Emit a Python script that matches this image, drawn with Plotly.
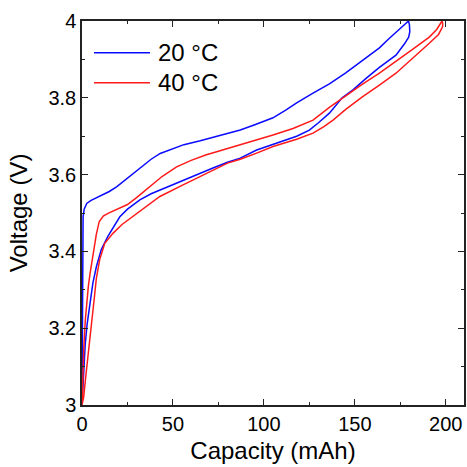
import plotly.graph_objects as go

# ---- data ----
# 20 °C : charge branch (upper) and discharge branch (lower)
cap_20_charge = [0, 0.1, 0.2, 0.3, 0.6, 1.2, 2.6, 5, 10, 15, 19, 25, 32, 38, 43, 50, 56, 65, 72, 80,
                 87, 95, 105, 112, 118, 127, 136, 145, 154, 163.5, 169, 174.4, 179.5]
v_20_charge = [3.0, 3.2, 3.35, 3.45, 3.49, 3.51, 3.525, 3.533, 3.545, 3.556, 3.568, 3.59, 3.618, 3.64,
               3.655, 3.668, 3.678, 3.688, 3.697, 3.707, 3.716, 3.73, 3.748, 3.768, 3.787, 3.812, 3.836,
               3.865, 3.896, 3.93, 3.955, 3.978, 4.0]
cap_20_discharge = [180.0, 180.2, 179.6, 177.2, 172.6, 163.5, 156, 148.8, 143, 136, 130, 125, 118, 112,
                    104, 96, 87, 80, 72, 65, 56, 46.5, 38, 31.8, 25, 20.8, 17.2, 14.3, 10.6, 7.9, 6,
                    5.1, 4.0, 2.8, 1.8, 0.9, 0.3, 0]
v_20_discharge = [3.99, 3.972, 3.958, 3.94, 3.911, 3.879, 3.85, 3.82, 3.8, 3.76, 3.735, 3.716, 3.70,
                  3.69, 3.677, 3.664, 3.643, 3.632, 3.617, 3.603, 3.586, 3.568, 3.55, 3.534, 3.51, 3.49,
                  3.464, 3.44, 3.405, 3.36, 3.318, 3.29, 3.255, 3.21, 3.16, 3.09, 3.035, 3.0]

# 40 °C : charge branch (upper) and discharge branch (lower)
cap_40_charge = [0, 0.4, 1.0, 1.8, 2.6, 3.5, 4.5, 6, 7.9, 9.5, 11.7, 14.3, 19, 25, 30, 37, 44, 52, 60,
                 68, 78, 87, 95, 105, 116, 127, 136, 145, 154, 163.5, 172, 181.7, 190.9, 195, 197.9]
v_40_charge = [3.0, 3.08, 3.15, 3.22, 3.27, 3.31, 3.345, 3.39, 3.445, 3.478, 3.492, 3.499, 3.51, 3.522,
               3.54, 3.567, 3.595, 3.62, 3.637, 3.651, 3.665, 3.677, 3.688, 3.703, 3.72, 3.742, 3.775,
               3.806, 3.835, 3.864, 3.892, 3.926, 3.958, 3.978, 4.0]
cap_40_discharge = [198.3, 198.2, 196, 190.9, 182, 172.6, 163.5, 154.3, 145, 138, 133, 127, 118, 105,
                    96, 87, 80, 72, 64.7, 55, 42.8, 35, 28, 22, 17, 12.5, 9.7, 7.9, 6.8, 5.3, 3.7, 2.2,
                    0.9, 0]
v_40_discharge = [3.993, 3.985, 3.965, 3.942, 3.905, 3.864, 3.833, 3.803, 3.77, 3.742, 3.725, 3.708,
                  3.692, 3.673, 3.656, 3.64, 3.63, 3.612, 3.595, 3.572, 3.543, 3.515, 3.49, 3.47, 3.447,
                  3.421, 3.378, 3.33, 3.28, 3.22, 3.15, 3.08, 3.02, 3.0]

series_names = ["20 °C", "40 °C"]
series_colors = ["#0A0AFF", "#FF1A1A"]

x_ticks = [0, 50, 100, 150, 200]
y_ticks = [3, 3.2, 3.4, 3.6, 3.8, 4]

FONT = "Liberation Sans, Arial, sans-serif"

fig = go.Figure()
loops = [
    (cap_20_charge + cap_20_discharge, v_20_charge + v_20_discharge),
    (cap_40_charge + cap_40_discharge, v_40_charge + v_40_discharge),
]
for (xs, ys), name, color in zip(loops, series_names, series_colors):
    fig.add_trace(go.Scatter(x=xs, y=ys, mode="lines", name=name,
                             line=dict(color=color, width=1.5), showlegend=False))

# legend drawn as short line samples + text (top-left inside plot)
leg_y = [0.9174, 0.8393]
for name, color, yy in zip(series_names, series_colors, leg_y):
    fig.add_shape(type="line", xref="paper", yref="paper", x0=0.0314, x1=0.178, y0=yy, y1=yy,
                  line=dict(color=color, width=1.5))
    fig.add_annotation(xref="paper", yref="paper", x=0.193, y=yy, text=name, showarrow=False,
                       xanchor="left", yanchor="middle", font=dict(family=FONT, size=24, color="black"))

axis_common = dict(
    showgrid=False, zeroline=False, showline=True, linecolor="#222", linewidth=1.5,
    mirror="allticks", ticks="inside", ticklen=6, tickwidth=1.3, tickcolor="#222",
    tickfont=dict(family=FONT, size=20, color="black"), automargin=False,
)
fig.update_xaxes(
    range=[0, 210], tickvals=x_ticks, ticktext=[str(v) for v in x_ticks],
    minor=dict(ticks="inside", ticklen=3, tickvals=[25, 75, 125, 175], tickcolor="#222", tickwidth=1.2),
    title=dict(text="Capacity (mAh)", font=dict(family=FONT, size=24, color="black"), standoff=8),
    **axis_common,
)
fig.update_yaxes(
    range=[3, 4], tickvals=y_ticks, ticktext=["3", "3.2", "3.4", "3.6", "3.8", "4"],
    minor=dict(ticks="inside", ticklen=3, tickvals=[3.1, 3.3, 3.5, 3.7, 3.9], tickcolor="#222", tickwidth=1.2),
    title=dict(text="Voltage (V)", font=dict(family=FONT, size=24, color="black"), standoff=14),
    **axis_common,
)
fig.update_layout(
    width=467, height=467,
    margin=dict(l=82, r=3, t=21, b=62, autoexpand=False),
    paper_bgcolor="white", plot_bgcolor="white",
    font=dict(family=FONT, color="black"),
)
fig.write_html("out.html", config={"displayModeBar": False},
               post_script="document.body.style.margin='0';document.body.style.overflow='hidden';")
